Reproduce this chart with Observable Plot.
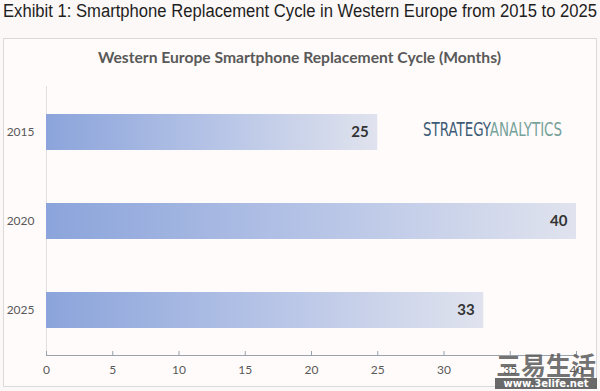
<!DOCTYPE html>
<html>
<head>
<meta charset="utf-8">
<script src="https://cdn.jsdelivr.net/npm/d3@7"></script>
<script src="https://cdn.jsdelivr.net/npm/@observablehq/plot@0.6"></script>
<style>
  html, body { margin: 0; padding: 0; background: #fcf8f7; }
  #page { position: relative; width: 600px; height: 391px; overflow: hidden; }
  #title { position: absolute; left: 3px; top: 1px; font-family: "Liberation Sans", Arial, sans-serif; font-size: 18px; color: #1e1e1e; white-space: nowrap; transform-origin: 0 0; }
  #box { position: absolute; left: 3px; top: 38px; width: 592px; height: 347px; border: 1px solid #dcd9d9; background: #fefbfa; }
  #sub { position: absolute; left: 0; top: 9px; font-family: Lato, "Open Sans", sans-serif; font-weight: bold; font-size: 15px; color: #595959; white-space: nowrap; transform-origin: 0 0; }
  #logo { position: absolute; left: 423px; top: 117px; font-family: "Liberation Sans Narrow", "DejaVu Sans Condensed", sans-serif; font-stretch: condensed; font-size: 20px; white-space: nowrap; transform-origin: 0 0; }
  #wm { position: absolute; left: 495px; top: 350px; width: 102px; text-align: center; color: rgba(90,90,90,0.85); font-family: "Noto Sans CJK SC", sans-serif; font-weight: bold; }
  #wm .a { font-size: 25px; line-height: 28px; letter-spacing: 0px; }
  #wm .b { font-family: "DejaVu Sans", sans-serif; font-size: 10px; line-height: 11px; color: #fff; background: rgba(80,80,80,0.85); }
</style>
</head>
<body>
<div id="page">
  <div id="title">Exhibit 1: Smartphone Replacement Cycle in Western Europe from 2015 to 2025</div>
  <div id="box">
    <div id="sub">Western Europe Smartphone Replacement Cycle (Months)</div>
    <div id="chart"></div>
  </div>
  <div id="logo"><span style="color:#3e5b76">STRATEGY</span><span style="color:#77a29a">ANALYTICS</span></div>
  <div id="wm"><div class="a">三易生活</div><div class="b">www.3elife.net</div></div>
</div>
<script>
const years = ["2015", "2020", "2025"];
const months = [25, 40, 33];
const xTicks = [0, 5, 10, 15, 20, 25, 30, 35, 40];

const data = years.map((y, i) => ({year: y, months: months[i]}));

const chart = Plot.plot({
  width: 592,
  height: 347,
  marginTop: 47,
  marginBottom: 31,
  marginLeft: 42,
  marginRight: 20,
  style: {background: "transparent", fontFamily: "Lato, 'Open Sans', sans-serif", color: "#595959", overflow: "visible"},
  x: {domain: [0, 40], label: null},
  y: {domain: years, label: null, paddingInner: 0.6, paddingOuter: 0.3},
  marks: [
    Plot.ruleX([0], {stroke: "#e4dede"}),
    Plot.barX(data, {x: "months", y: "year", fill: "url(#barGrad)"}),
    Plot.text(data, {x: "months", y: "year", text: d => String(d.months), textAnchor: "end", dx: -9, fontWeight: "bold", fontSize: 15, fill: "#333333"}),
    Plot.frame({anchor: "bottom", stroke: "#97a2ad", strokeWidth: 1.2}),
    Plot.tickX(xTicks, {x: d => d, stroke: "#97a2ad", insetTop: 265}),
    Plot.axisX({ticks: xTicks, tickSize: 0, tickPadding: 10, fontSize: 12, fill: "#595959"}),
    Plot.axisY({tickSize: 0, tickPadding: 12, fontSize: 12, fill: "#595959"})
  ]
});

d3.select(chart).insert("defs", ":first-child").html(
  '<linearGradient id="barGrad" x1="0" y1="0" x2="1" y2="0">' +
  '<stop offset="0" stop-color="#8ba4db"/>' +
  '<stop offset="0.5" stop-color="#b5c3e6"/>' +
  '<stop offset="1" stop-color="#e0e3ee"/>' +
  '</linearGradient>'
);

document.getElementById("chart").appendChild(chart);

function fit(id, width, leftCenter) {
  const el = document.getElementById(id);
  const w = el.getBoundingClientRect().width;
  el.style.transform = `scaleX(${width / w})`;
  if (leftCenter != null) el.style.left = (leftCenter - width / 2) + "px";
}
fit("title", 594);
fit("sub", 403, 295);
fit("logo", 139);
</script>
</body>
</html>
